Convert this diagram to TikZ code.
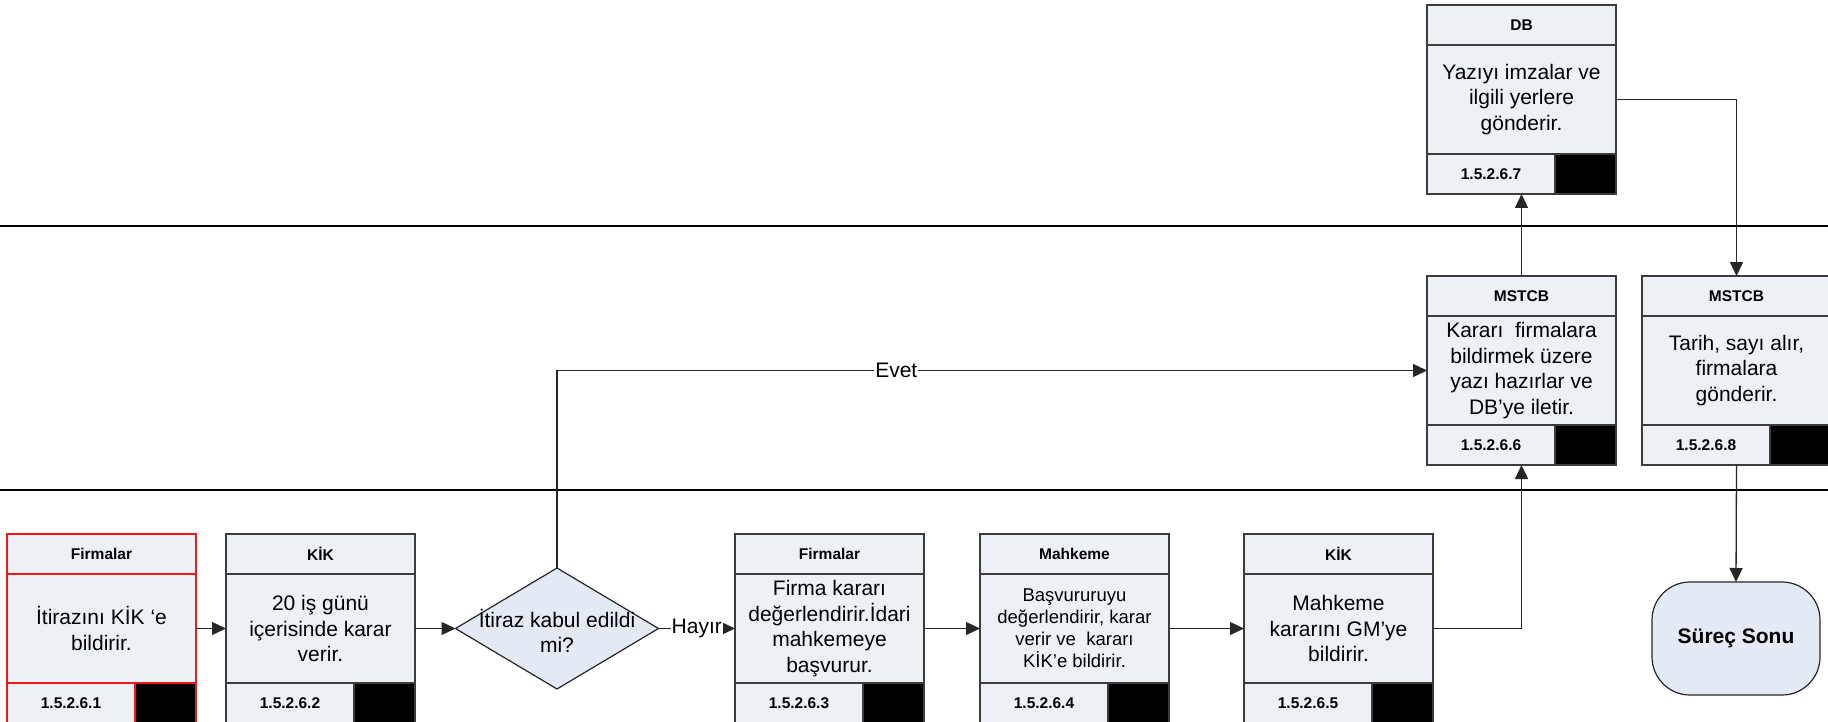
\documentclass[tikz,border=0pt]{standalone}
\usepackage{fontspec}
\setmainfont{Liberation Sans}
\usetikzlibrary{arrows.meta,shapes.geometric}
\definecolor{boxfill}{HTML}{EDF0F5}
\definecolor{decfill}{HTML}{E4EAF4}
\definecolor{edgegray}{HTML}{3C3C3C}
\definecolor{redline}{HTML}{F01818}
\newcommand\mybody{\fontsize{21}{25.5}\selectfont}
\newcommand\mysmall{\fontsize{18.5}{22}\selectfont}
\newcommand\myhead{\fontsize{15.5}{18}\selectfont\bfseries}
\newcommand\pbox[8]{%
  \node[hdr,draw=#4,anchor=north west] (#1-h) at (#2,#3) {#5};
  \node[bdy,draw=#4,anchor=north,font=#8] (#1) at (#1-h.south) {#6};
  \node[ftr,draw=#4,anchor=north] (#1-f) at (#1.south) {};
  \node[idn,draw=#4,anchor=north west] (#1-n) at (#1-f.north west) {#7};
  \node[blk,draw=#4,anchor=north east] (#1-k) at (#1-f.north east) {};
}
\tikzset{
  boxbase/.style={rectangle, fill=boxfill, line width=1.1pt, inner sep=0pt, outer sep=0pt},
  hdr/.style={boxbase, minimum width=189pt, minimum height=40pt, font=\myhead},
  bdy/.style={boxbase, minimum width=189pt, minimum height=109pt, align=center},
  ftr/.style={boxbase, minimum width=189pt, minimum height=40pt},
  idn/.style={boxbase, minimum width=128pt, minimum height=40pt, font=\myhead},
  blk/.style={boxbase, fill=black, minimum width=61pt, minimum height=40pt},
  conn/.style={draw=black!85, line width=1.3pt, -{Triangle[length=14pt,width=13pt]}},
  lbl/.style={fill=white, inner sep=1pt, font=\mybody},
  decbox/.style={diamond, draw=black!85, fill=decfill, line width=1.2pt, minimum width=203pt, minimum height=121pt, inner sep=0pt, outer sep=0pt},
  termbox/.style={rectangle, rounded corners=38pt, draw=black!85, fill=decfill, line width=1.2pt, minimum width=168pt, minimum height=113pt, inner sep=0pt, outer sep=0pt, font=\fontsize{21}{25}\selectfont\bfseries},
  lane/.style={draw=black, line width=2.3pt}
}
\begin{document}
\begin{tikzpicture}[x=1pt,y=-1pt]
\useasboundingbox (0,0) rectangle (1828,722);
\clip (0,0) rectangle (1828,722);
\fill[white] (0,0) rectangle (1828,722);
% lanes
\draw[lane] (0,226) -- (1828,226);
\draw[lane] (0,490) -- (1828,490);
% process boxes
\pbox{b1}{7}{534}{redline}{Firmalar}{İtirazını KİK ‘e\\bildirir.}{1.5.2.6.1}{\mybody}
\pbox{b2}{226}{534}{edgegray}{KİK}{20 iş günü\\içerisinde karar\\verir.}{1.5.2.6.2}{\mybody}
\pbox{b3}{735}{534}{edgegray}{Firmalar}{Firma kararı\\değerlendirir.İdari\\mahkemeye\\başvurur.}{1.5.2.6.3}{\mybody}
\pbox{b4}{980}{534}{edgegray}{Mahkeme}{Başvururuyu\\değerlendirir, karar\\verir ve\ \ kararı\\KİK’e bildirir.}{1.5.2.6.4}{\mysmall}
\pbox{b5}{1244}{534}{edgegray}{KİK}{Mahkeme\\kararını GM’ye\\bildirir.}{1.5.2.6.5}{\mybody}
\pbox{b6}{1427}{276}{edgegray}{MSTCB}{Kararı\ \ firmalara\\bildirmek üzere\\yazı hazırlar ve\\DB’ye iletir.}{1.5.2.6.6}{\mybody}
\pbox{b7}{1427}{5}{edgegray}{DB}{Yazıyı imzalar ve\\ilgili yerlere\\gönderir.}{1.5.2.6.7}{\mybody}
\pbox{b8}{1642}{276}{edgegray}{MSTCB}{Tarih, sayı alır,\\firmalara\\gönderir.}{1.5.2.6.8}{\mybody}
% decision
\node[decbox] (dia) at (557,628.5) {};
\node[font=\mybody, align=center, inner sep=0pt] (diat) at (557,631) {İtiraz kabul edildi\\mi?};
% terminator
\node[termbox] (end) at (1736,638.5) {Süreç Sonu};
% connectors
\draw[conn] (b1.east) -- (b2.west);
\draw[conn] (b2.east) -- (dia.west);
\draw[conn] (dia.east) -- node[lbl] {Hayır} (b3.west);
\draw[conn] (b3.east) -- (b4.west);
\draw[conn] (b4.east) -- (b5.west);
\draw[conn] (b5.east) -| (b6-f.south);
\draw[conn] (dia.north) |- node[lbl, pos=0.695] {Evet} (b6.west);
\draw[conn] (b6-h.north) -- (b7-f.south);
\draw[conn] (b7.east) -| (b8-h.north);
\draw[conn] (b8-f.south) -- (end.north);
\end{tikzpicture}
\end{document}
